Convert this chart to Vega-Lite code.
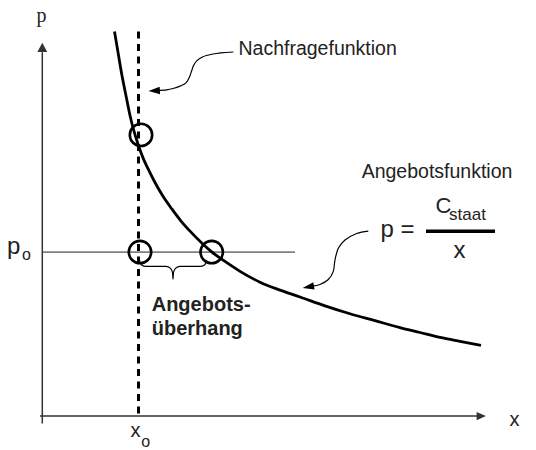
{
  "$schema": "https://vega.github.io/schema/vega-lite/v6.json",
  "width": 536,
  "height": 450,
  "autosize": {"type": "fit", "contains": "padding"},
  "padding": 0,
  "background": "white",
  "config": {"view": {"stroke": null}},
  "encoding": {
    "x": {"field": "x", "type": "quantitative", "scale": {"domain": [-43, 493], "nice": false, "zero": false}, "axis": null},
    "y": {"field": "y", "type": "quantitative", "scale": {"domain": [-29, 421], "nice": false, "zero": false}, "axis": null}
  },
  "layer": [
    {
      "data": {"values": [{"x": -0.7, "y": -8.3, "y2": 368}]},
      "mark": {"type": "rule", "color": "#333", "strokeWidth": 1.5},
      "encoding": {"y2": {"field": "y2"}}
    },
    {
      "data": {"values": [{"x": -3, "x2": 435, "y": -0.7}]},
      "mark": {"type": "rule", "color": "#333", "strokeWidth": 1.5},
      "encoding": {"x2": {"field": "x2"}}
    },
    {
      "data": {"values": [{"x": -0.7, "y": 373}]},
      "mark": {"type": "point", "shape": "M0,-1L-1.05,1L1.05,1Z", "filled": true, "color": "#333", "opacity": 1, "size": 88}
    },
    {
      "data": {"values": [{"x": 438.3, "y": -0.7}]},
      "mark": {"type": "point", "shape": "M1,0L-1,-0.9L-1,0.9Z", "filled": true, "color": "#333", "opacity": 1, "size": 87}
    },
    {
      "data": {"values": [{"x": 0, "x2": 252, "y": 165.5}]},
      "mark": {"type": "rule", "color": "#808080", "strokeWidth": 1.8},
      "encoding": {"x2": {"field": "x2"}}
    },
    {
      "data": {"values": [{"x": 95.5, "y": 389, "y2": 2}]},
      "mark": {"type": "rule", "color": "#000", "strokeWidth": 3, "strokeDash": [7, 5.5]},
      "encoding": {"y2": {"field": "y2"}}
    },
    {
      "data": {"values": [
        {"x": 71.5, "y": 389}, {"x": 75, "y": 368}, {"x": 78.7, "y": 346}, {"x": 83, "y": 324},
        {"x": 87, "y": 304}, {"x": 91, "y": 288}, {"x": 95.3, "y": 274}, {"x": 100, "y": 261},
        {"x": 105, "y": 250}, {"x": 112, "y": 236}, {"x": 120, "y": 222}, {"x": 129, "y": 209},
        {"x": 138, "y": 197}, {"x": 148.7, "y": 185}, {"x": 158, "y": 175.5}, {"x": 168.7, "y": 165.7},
        {"x": 182, "y": 156}, {"x": 197, "y": 146}, {"x": 217, "y": 135}, {"x": 237, "y": 127},
        {"x": 257, "y": 120}, {"x": 282, "y": 111}, {"x": 307, "y": 103}, {"x": 332, "y": 96},
        {"x": 357, "y": 89}, {"x": 377, "y": 84}, {"x": 397, "y": 79}, {"x": 417, "y": 75}, {"x": 438, "y": 71}
      ]},
      "mark": {"type": "line", "color": "#000", "strokeWidth": 2.8, "interpolate": "monotone"},
      "encoding": {}
    },
    {
      "data": {"values": [
        {"i": 0, "x": 96.5, "y": 157}, {"i": 1, "x": 98.5, "y": 152.5}, {"i": 2, "x": 103, "y": 151},
        {"i": 3, "x": 123, "y": 151}, {"i": 4, "x": 127.5, "y": 149}, {"i": 5, "x": 129.5, "y": 145},
        {"i": 6, "x": 130, "y": 138}, {"i": 7, "x": 130.5, "y": 145}, {"i": 8, "x": 132.5, "y": 149},
        {"i": 9, "x": 137, "y": 151}, {"i": 10, "x": 157, "y": 151}, {"i": 11, "x": 161.5, "y": 152.5},
        {"i": 12, "x": 164, "y": 157}
      ]},
      "mark": {"type": "line", "color": "#000", "strokeWidth": 1.2, "interpolate": "monotone"},
      "encoding": {"order": {"field": "i"}}
    },
    {
      "data": {"values": [
        {"i": 0, "x": 190.3, "y": 368.3}, {"i": 1, "x": 178, "y": 367.5}, {"i": 2, "x": 168.7, "y": 366},
        {"i": 3, "x": 160, "y": 363.5}, {"i": 4, "x": 153.7, "y": 359.3}, {"i": 5, "x": 150.5, "y": 354.5},
        {"i": 6, "x": 148.7, "y": 349.3}, {"i": 7, "x": 146.5, "y": 343}, {"i": 8, "x": 143, "y": 337},
        {"i": 9, "x": 137, "y": 333.7}, {"i": 10, "x": 130, "y": 331.3}, {"i": 11, "x": 123.7, "y": 330},
        {"i": 12, "x": 114, "y": 329.3}
      ]},
      "mark": {"type": "line", "color": "#000", "strokeWidth": 1.2, "interpolate": "cardinal"},
      "encoding": {"order": {"field": "i"}}
    },
    {
      "data": {"values": [{"x": 111.2, "y": 329}]},
      "mark": {"type": "point", "shape": "M-1,0L1,-0.65L1,0.65Z", "filled": true, "color": "#000", "opacity": 1, "size": 130, "angle": -3}
    },
    {
      "data": {"values": [
        {"i": 0, "x": 325.3, "y": 186.7}, {"i": 1, "x": 313.7, "y": 184.3}, {"i": 2, "x": 302, "y": 177.7},
        {"i": 3, "x": 295.3, "y": 169.3}, {"i": 4, "x": 292, "y": 157.7}, {"i": 5, "x": 290.3, "y": 146},
        {"i": 6, "x": 285.3, "y": 137.7}, {"i": 7, "x": 277, "y": 132.7}, {"i": 8, "x": 269, "y": 131}
      ]},
      "mark": {"type": "line", "color": "#000", "strokeWidth": 1.2, "interpolate": "cardinal"},
      "encoding": {"order": {"field": "i"}}
    },
    {
      "data": {"values": [{"x": 265.3, "y": 130.2}]},
      "mark": {"type": "point", "shape": "M-1,0L1,-0.65L1,0.65Z", "filled": true, "color": "#000", "opacity": 1, "size": 130, "angle": -10}
    },
    {
      "data": {"values": [{"x": 98, "y": 284.3}, {"x": 97, "y": 165.5}, {"x": 168.7, "y": 165.5}]},
      "mark": {"type": "point", "shape": "circle", "filled": false, "color": "#000", "opacity": 1, "size": 500, "strokeWidth": 2.6}
    },
    {
      "data": {"values": [{"x": 383, "x2": 452, "y": 186.7}]},
      "mark": {"type": "rule", "color": "#000", "strokeWidth": 3.5},
      "encoding": {"x2": {"field": "x2"}}
    },
    {
      "data": {"values": [{"x": -1.5, "y": 398.7, "label": "p"}]},
      "mark": {"type": "text", "font": "Liberation Serif", "fontSize": 20, "align": "center", "baseline": "alphabetic", "color": "#222"},
      "encoding": {"text": {"field": "label"}}
    },
    {
      "data": {"values": [{"x": 195.5, "y": 365, "label": "Nachfragefunktion"}]},
      "mark": {"type": "text", "font": "Liberation Sans", "fontSize": 19.5, "align": "left", "baseline": "alphabetic", "color": "#222"},
      "encoding": {"text": {"field": "label"}}
    },
    {
      "data": {"values": [{"x": 394, "y": 240.5, "label": "Angebotsfunktion"}]},
      "mark": {"type": "text", "font": "Liberation Sans", "fontSize": 19.5, "align": "center", "baseline": "alphabetic", "color": "#222"},
      "encoding": {"text": {"field": "label"}}
    },
    {
      "data": {"values": [
        {"x": 337.5, "y": 180.5, "label": "p ="},
        {"x": -36, "y": 163.5, "label": "p"}
      ]},
      "mark": {"type": "text", "font": "Liberation Sans", "fontSize": 24, "align": "left", "baseline": "alphabetic", "color": "#222"},
      "encoding": {"text": {"field": "label"}}
    },
    {
      "data": {"values": [{"x": 416.5, "y": 159.5, "label": "x"}]},
      "mark": {"type": "text", "font": "Liberation Sans", "fontSize": 24, "align": "center", "baseline": "alphabetic", "color": "#222"},
      "encoding": {"text": {"field": "label"}}
    },
    {
      "data": {"values": [{"x": 392.5, "y": 205, "label": "C"}]},
      "mark": {"type": "text", "font": "Liberation Sans", "fontSize": 22, "align": "left", "baseline": "alphabetic", "color": "#222"},
      "encoding": {"text": {"field": "label"}}
    },
    {
      "data": {"values": [{"x": 406, "y": 198, "label": "staat"}]},
      "mark": {"type": "text", "font": "Liberation Sans", "fontSize": 17, "align": "left", "baseline": "alphabetic", "color": "#222"},
      "encoding": {"text": {"field": "label"}}
    },
    {
      "data": {"values": [
        {"x": -21, "y": 157.7, "label": "o"},
        {"x": 98.2, "y": -31.6, "label": "o"}
      ]},
      "mark": {"type": "text", "font": "Liberation Sans", "fontSize": 16, "align": "left", "baseline": "alphabetic", "color": "#222"},
      "encoding": {"text": {"field": "label"}}
    },
    {
      "data": {"values": [
        {"x": 87.5, "y": -22.3, "label": "x"},
        {"x": 466.5, "y": -10.7, "label": "x"}
      ]},
      "mark": {"type": "text", "font": "Liberation Sans", "fontSize": 20, "align": "left", "baseline": "alphabetic", "color": "#222"},
      "encoding": {"text": {"field": "label"}}
    },
    {
      "data": {"values": [
        {"x": 108.7, "y": 106, "label": "Angebots-"},
        {"x": 108.7, "y": 81, "label": "überhang"}
      ]},
      "mark": {"type": "text", "font": "Liberation Sans", "fontSize": 20, "fontWeight": "bold", "align": "left", "baseline": "alphabetic", "color": "#222"},
      "encoding": {"text": {"field": "label"}}
    }
  ]
}
